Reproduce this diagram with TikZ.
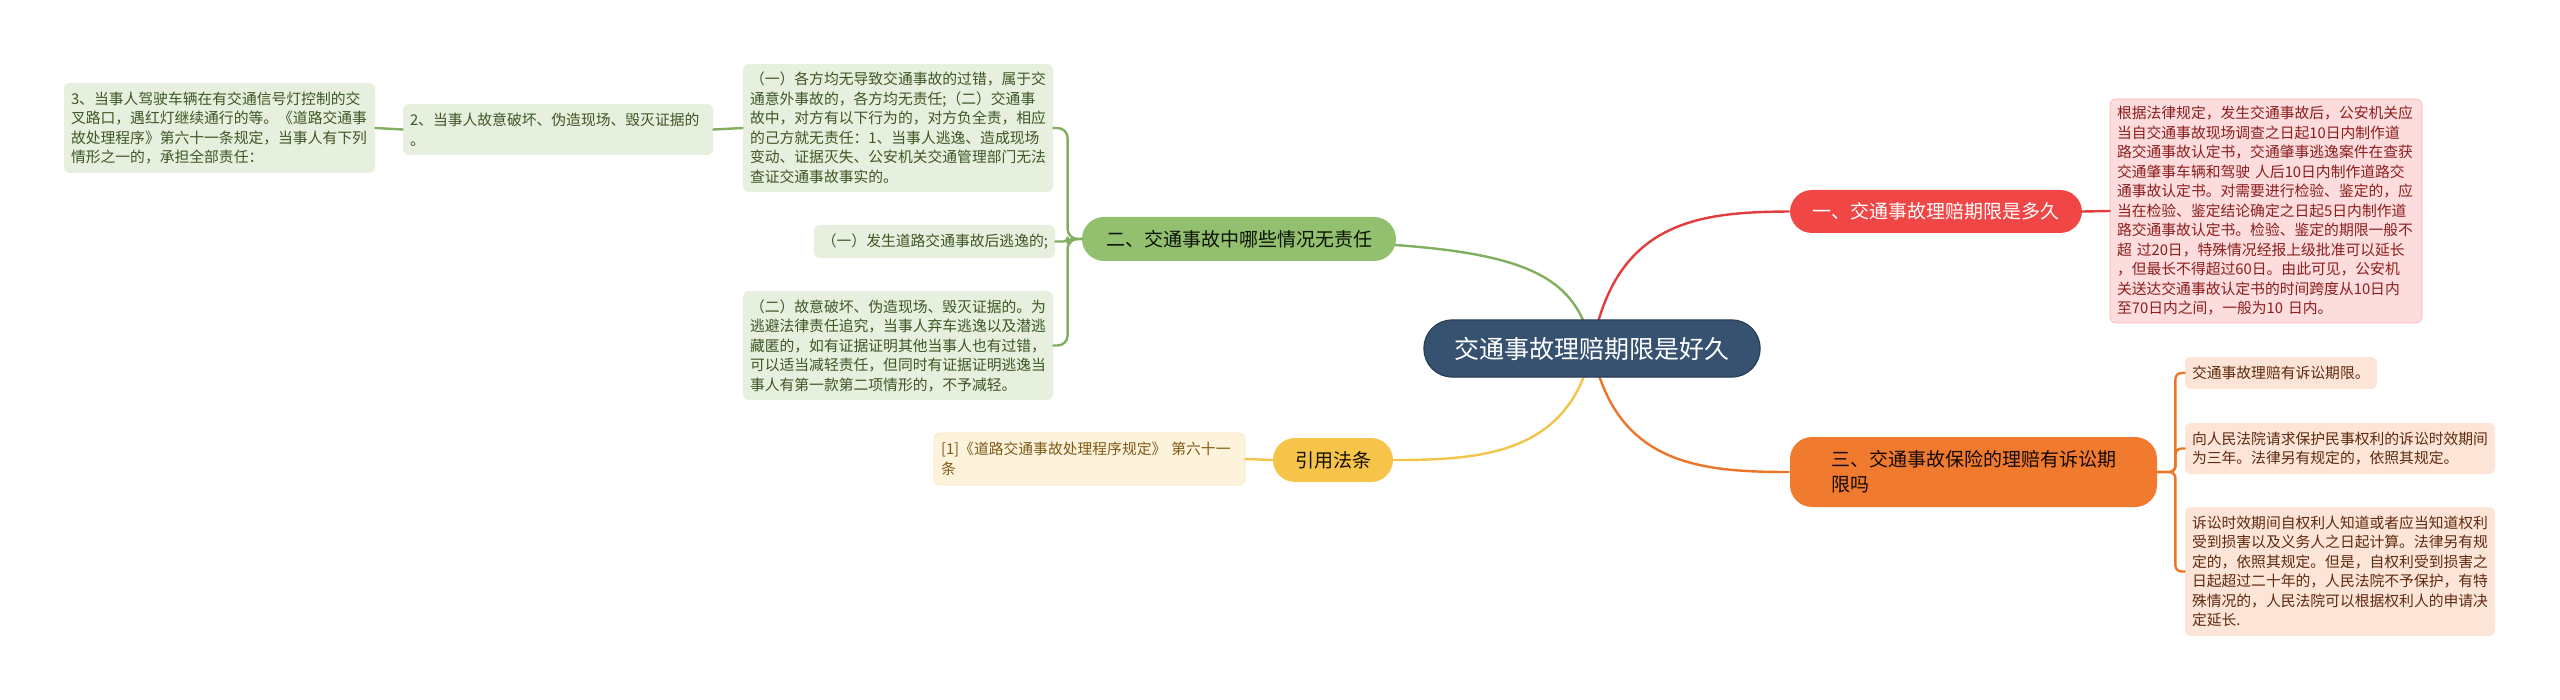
\documentclass[tikz,border=0pt]{standalone}
\usepackage{fontspec}
\setmainfont{Noto Sans CJK SC}
\usetikzlibrary{backgrounds}
\definecolor{rootblue}{RGB}{55,82,112}
\definecolor{rootedge}{RGB}{40,62,88}
\definecolor{redfill}{RGB}{240,70,70}
\definecolor{redline}{RGB}{226,60,60}
\definecolor{redleaf}{RGB}{252,220,220}
\definecolor{redtext}{RGB}{140,30,30}
\definecolor{greenfill}{RGB}{146,192,110}
\definecolor{greenline}{RGB}{130,175,95}
\definecolor{greenleaf}{RGB}{231,239,222}
\definecolor{greentext}{RGB}{60,88,36}
\definecolor{yellowfill}{RGB}{246,196,72}
\definecolor{yellowline}{RGB}{242,196,75}
\definecolor{yellowleaf}{RGB}{253,243,221}
\definecolor{yellowtext}{RGB}{125,90,20}
\definecolor{orangefill}{RGB}{240,122,46}
\definecolor{orangeline}{RGB}{235,118,40}
\definecolor{orangeleaf}{RGB}{252,228,214}
\definecolor{orangetext}{RGB}{95,42,16}
\begin{document}
\begin{tikzpicture}[x=0.5pt, y=-0.5pt, line join=round, line cap=round,
    root/.style={draw=rootedge, line width=0.6pt, fill=rootblue, text=white, rounded corners=14pt,
      inner sep=0pt, font=\fontsize{12.5pt}{15pt}\selectfont},
    branch/.style={rounded corners=11pt, inner sep=0pt, font=\fontsize{9.5pt}{12.5pt}\selectfont},
    leaf/.style={rounded corners=3pt, inner xsep=3.5pt, inner ysep=0pt, align=left,
      font=\fontsize{7.4pt}{9.75pt}\selectfont},
    link/.style={line width=1.2pt}]
\useasboundingbox (0,0) rectangle (2560,700);

% centre
\node[root, minimum width=168pt, minimum height=28.5pt] (c) at (1592,348.5) {交通事故理赔期限是好久};

% branch one
\node[branch, fill=redfill, text=white, minimum width=146pt, minimum height=21.5pt] (r) at (1936,211.5) {一、交通事故理赔期限是多久};
\node[leaf, fill=redleaf, draw=redleaf!80!red, line width=0.3pt, text=redtext, text width=149pt, minimum height=112pt] (rl) at (2266,211) {根据法律规定，发生交通事故后，公安机关应\\
当自交通事故现场调查之日起10日内制作道\\
路交通事故认定书，交通肇事逃逸案件在查获\\
交通肇事车辆和驾驶 人后10日内制作道路交\\
通事故认定书。对需要进行检验、鉴定的，应\\
当在检验、鉴定结论确定之日起5日内制作道\\
路交通事故认定书。检验、鉴定的期限一般不\\
超 过20日，特殊情况经报上级批准可以延长\\
，但最长不得超过60日。由此可见，公安机\\
关送达交通事故认定书的时间跨度从10日内\\
至70日内之间，一般为10 日内。};

% branch two
\node[branch, fill=greenfill, text=black!80!greentext, minimum width=157pt, minimum height=22pt] (g) at (1239,239) {二、交通事故中哪些情况无责任};
\node[leaf, fill=greenleaf, text=greentext, text width=148pt, minimum height=64pt] (gl1) at (898,128) {（一）各方均无导致交通事故的过错，属于交\\
通意外事故的，各方均无责任;（二）交通事\\
故中，对方有以下行为的，对方负全责，相应\\
的己方就无责任：1、当事人逃逸、造成现场\\
变动、证据灭失、公安机关交通管理部门无法\\
查证交通事故事实的。};
\node[leaf, fill=greenleaf, text=greentext, text width=113.5pt, minimum height=16.5pt, align=right] (gl2) at (934.5,241.5) {（一）发生道路交通事故后逃逸的;};
\node[leaf, fill=greenleaf, text=greentext, text width=148pt, minimum height=54.5pt] (gl3) at (898,345.5) {（二）故意破坏、伪造现场、毁灭证据的。为\\
逃避法律责任追究，当事人弃车逃逸以及潜逃\\
藏匿的，如有证据证明其他当事人也有过错，\\
可以适当减轻责任，但同时有证据证明逃逸当\\
事人有第一款第二项情形的，不予减轻。};
\node[leaf, fill=greenleaf, text=greentext, text width=148pt, minimum height=25.5pt] (g2) at (558,129.5) {2、当事人故意破坏、伪造现场、毁灭证据的\\
。};
\node[leaf, fill=greenleaf, text=greentext, text width=148.5pt, minimum height=45pt] (g3) at (219.5,128) {3、当事人驾驶车辆在有交通信号灯控制的交\\
叉路口，遇红灯继续通行的等。《道路交通事\\
故处理程序》第六十一条规定，当事人有下列\\
情形之一的，承担全部责任：};

% references
\node[branch, fill=yellowfill, text=black!85!yellowtext, minimum width=60pt, minimum height=22pt] (y) at (1333,460) {引用法条};
\node[leaf, fill=yellowleaf, draw=yellowleaf!85!orange, line width=0.3pt, text=yellowtext, text width=148.5pt, minimum height=26pt] (yl) at (1089.5,459) {[1]《道路交通事故处理程序规定》 第六十一\\
条};

% branch three
\node[branch, fill=orangefill, text=black!80!orangetext, minimum width=183.5pt, minimum height=35pt, align=left] (o) at (1973.5,472) {三、交通事故保险的理赔有诉讼期\\
限吗\hspace*{57pt}};
\node[leaf, fill=orangeleaf, text=orangetext, text width=89pt, minimum height=16pt] (ol1) at (2281,373) {交通事故理赔有诉讼期限。};
\node[leaf, fill=orangeleaf, text=orangetext, text width=148pt, minimum height=25.5pt] (ol2) at (2340,448.5) {向人民法院请求保护民事权利的诉讼时效期间\\
为三年。法律另有规定的，依照其规定。};
\node[leaf, fill=orangeleaf, text=orangetext, text width=148pt, minimum height=64.5pt] (ol3) at (2340,571.5) {诉讼时效期间自权利人知道或者应当知道权利\\
受到损害以及义务人之日起计算。法律另有规\\
定的，依照其规定。但是，自权利受到损害之\\
日起超过二十年的，人民法院不予保护，有特\\
殊情况的，人民法院可以根据权利人的申请决\\
定延长.};

\begin{scope}[on background layer]
  \draw[link, redline] (c.center) .. controls (1615,220) and (1700,212) .. (r.west);
  \draw[link, greenline] (c.center) .. controls (1570,245) and (1480,239) .. (g.west);
  \draw[link, yellowline] (c.center) .. controls (1570,455) and (1480,460) .. (y.east);
  \draw[link, orangeline] (c.center) .. controls (1615,465) and (1700,472) .. (o.west);
\end{scope}
\draw[link, redline] (r.east) -- (rl.west);
\draw[link, greenline, rounded corners=5pt] (g.west) -- ++(-14,0) |- (gl1.east);
\draw[link, greenline, rounded corners=2pt] (g.west) -- ++(-14,0) |- (gl2.east);
\draw[link, greenline, rounded corners=5pt] (g.west) -- ++(-14,0) |- (gl3.east);
\draw[link, greenline] (gl1.west) -- (g2.east);
\draw[link, greenline] (g2.west) -- (g3.east);
\draw[link, yellowline] (y.west) -- (yl.east);
\draw[link, orangeline, rounded corners=3pt] (o.east) -- ++(18,0) |- (ol1.west);
\draw[link, orangeline, rounded corners=3pt] (o.east) -- ++(18,0) |- (ol2.west);
\draw[link, orangeline, rounded corners=3pt] (o.east) -- ++(18,0) |- (ol3.west);
\end{tikzpicture}
\end{document}
